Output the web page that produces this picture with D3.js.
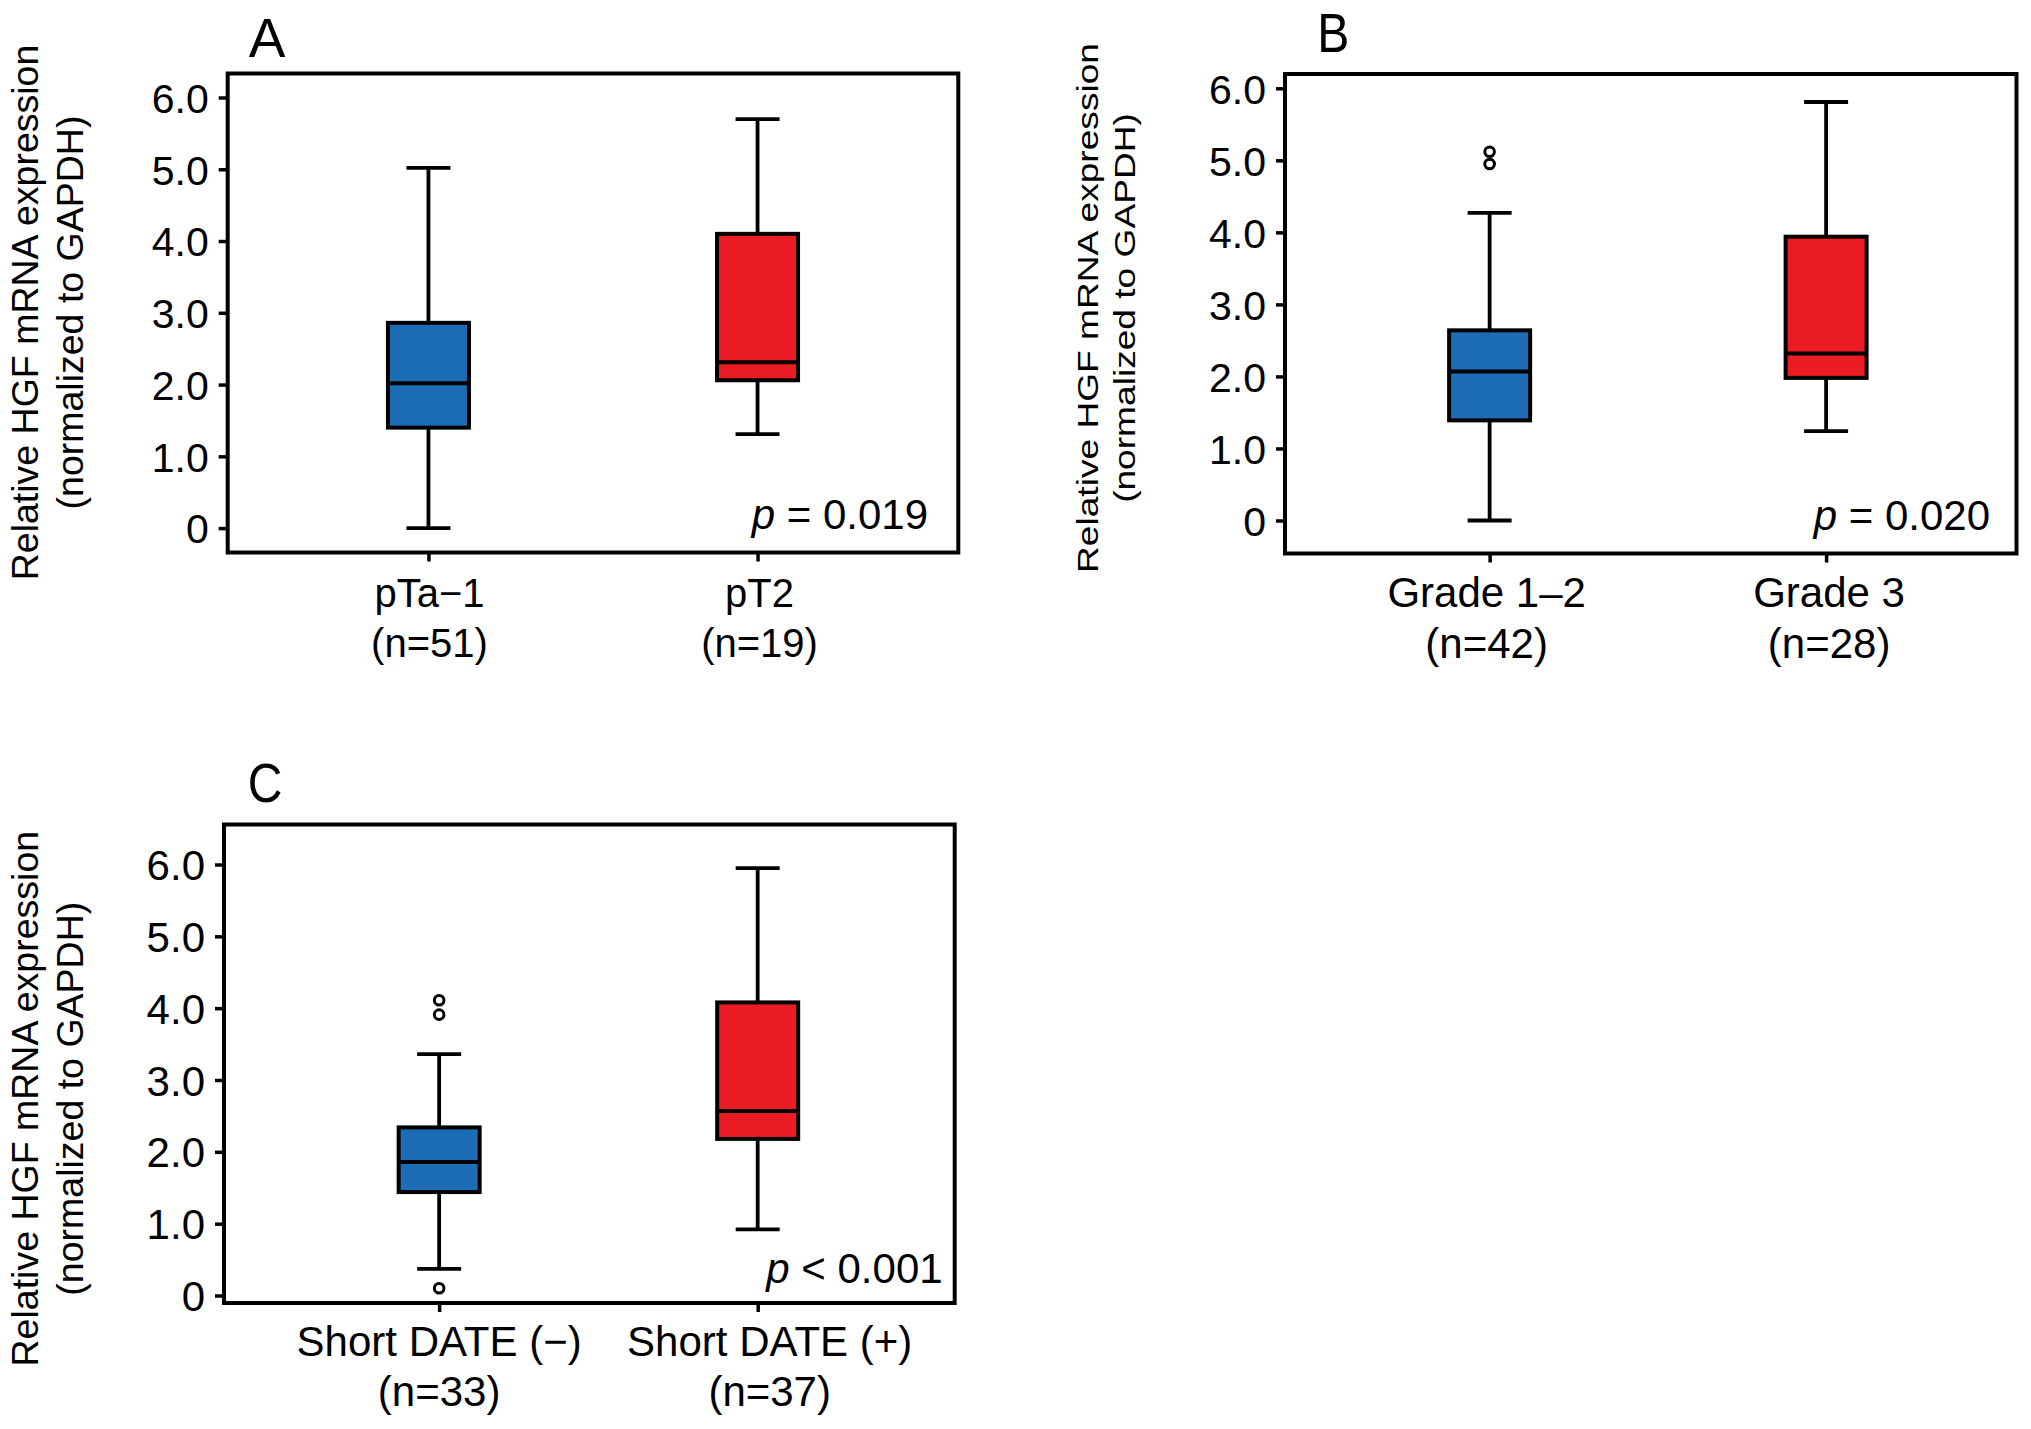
<!DOCTYPE html>
<html>
<head>
<meta charset="utf-8">
<script src="https://cdn.jsdelivr.net/npm/d3@7"></script>
<style>
  body { margin: 0; background: #fff; }
  svg { display: block; }
</style>
</head>
<body>
<script>
"use strict"

/****** DATA ******/
const tick_values = [0, 1, 2, 3, 4, 5, 6]
const tick_labels = ['0', '1.0', '2.0', '3.0', '4.0', '5.0', '6.0']
const y_title = ['Relative HGF mRNA expression', '(normalized to GAPDH)']
const box_colors = ['#1c6db6', '#ec1c24']

// box stats per group: [min, q1, median, q3, max]
const groups_a = ['pTa\u22121', 'pT2']
const counts_a = ['(n=51)', '(n=19)']
const stats_a = [[0, 1.40, 2.02, 2.86, 5.02], [1.31, 2.06, 2.31, 4.10, 5.70]]
const outliers_a = [[], []]
const p_a = ['p', ' = 0.019']

const groups_b = ['Grade 1\u20132', 'Grade 3']
const counts_b = ['(n=42)', '(n=28)']
const stats_b = [[0, 1.39, 2.07, 2.64, 4.27], [1.24, 1.98, 2.32, 3.94, 5.81]]
const outliers_b = [[4.95, 5.12], []]
const p_b = ['p', ' = 0.020']

const groups_c = ['Short DATE (\u2212)', 'Short DATE (+)']
const counts_c = ['(n=33)', '(n=37)']
const stats_c = [[0.37, 1.44, 1.86, 2.34, 3.36], [0.92, 2.18, 2.57, 4.08, 5.95]]
const outliers_c = [[0.10, 3.91, 4.11], []]
const p_c = ['p', ' < 0.001']

/****** LAYOUT ******/
const font = '"Liberation Sans", Arial, Helvetica, sans-serif'
const box_w = 81
const cap_w = 44

const layout = {
  A: {
    frame: [227.7, 73.5, 958.3, 552.5], y0: 528.1, y6: 97.5, pad: 0.61, align: 0.5,
    letter: { x: 248.7, y: 57.3, size: 55, sy: 1 },
    title: { x: [38.3, 83.3], cy: 312.5, size: 37.5, stretch: 1 },
    tick_size: 41,
    cats: { y: [606.7, 656.7], size: 40, dx: [1, 2] },
    p: { x: 928, y: 529, size: 42 }
  },
  B: {
    frame: [1285, 74, 2016.5, 553.5], y0: 520.5, y6: 88.3, pad: 0.587, align: 0.518,
    letter: { x: 1317.3, y: 52.3, size: 48, sy: 1.17 },
    title: { x: [1098.3, 1135], cy: 308, size: 29, stretch: 1.28 },
    tick_size: 41,
    cats: { y: [606.7, 658], size: 42, dx: [-3, 3] },
    p: { x: 1990, y: 530, size: 42 }
  },
  C: {
    frame: [224, 824.5, 954.7, 1303], y0: 1295.5, y6: 864.5, pad: 0.647, align: 0.522,
    letter: { x: 247.7, y: 801.5, size: 48, sy: 1.17 },
    title: { x: [38.3, 83.3], cy: 1098.7, size: 37.5, stretch: 1 },
    tick_size: 42,
    cats: { y: [1355.5, 1405.7], size: 42, dx: [0, 12] },
    p: { x: 942.6, y: 1283.4, size: 42 }
  }
}

const svg = d3.select('body').append('svg')
  .attr('width', 2031)
  .attr('height', 1429)
  .style('font-family', font)

/****** FUNCTIONS ******/
function drawPanel(letter, groups, counts, stats, outliers, p_text) {
  const cfg = layout[letter]
  const [x0, y_top, x1, y_bot] = cfg.frame

  const y = d3.scaleLinear().domain([0, 6]).range([cfg.y0, cfg.y6])
  const x = d3.scalePoint().domain(groups).range([x0, x1])
    .padding(cfg.pad).align(cfg.align)

  const g = svg.append('g').attr('class', 'panel-' + letter)

  // Axes (ticks only, the frame is drawn as a rect)
  const y_axis = g.append('g')
    .attr('transform', `translate(${x0},0)`)
    .call(d3.axisLeft(y)
      .tickValues(tick_values)
      .tickFormat((d, i) => tick_labels[i])
      .tickSize(9)
      .tickPadding(10))
  y_axis.select('.domain').remove()
  y_axis.selectAll('line').attr('stroke', '#000').attr('stroke-width', 3.5)
  y_axis.selectAll('text')
    .attr('font-family', font)
    .attr('font-size', cfg.tick_size)
    .attr('fill', '#000')
    .attr('dy', '0.36em')

  const x_axis = g.append('g')
    .attr('transform', `translate(0,${y_bot})`)
    .call(d3.axisBottom(x).tickSize(9).tickFormat(''))
  x_axis.select('.domain').remove()
  x_axis.selectAll('line').attr('stroke', '#000').attr('stroke-width', 3.5)

  g.append('rect')
    .attr('x', x0).attr('y', y_top)
    .attr('width', x1 - x0).attr('height', y_bot - y_top)
    .attr('fill', 'none')
    .attr('stroke', '#000')
    .attr('stroke-width', 4)

  // Boxes
  const boxes = g.selectAll('.box')
    .data(stats)
    .enter().append('g')
      .attr('class', 'box')
      .attr('transform', (d, i) => `translate(${x(groups[i])},0)`)

  boxes.append('line') // upper whisker
    .attr('y1', d => y(d[4])).attr('y2', d => y(d[3]))
  boxes.append('line') // lower whisker
    .attr('y1', d => y(d[1])).attr('y2', d => y(d[0]))
  boxes.append('line') // upper cap
    .attr('x1', -cap_w / 2).attr('x2', cap_w / 2)
    .attr('y1', d => y(d[4])).attr('y2', d => y(d[4]))
  boxes.append('line') // lower cap
    .attr('x1', -cap_w / 2).attr('x2', cap_w / 2)
    .attr('y1', d => y(d[0])).attr('y2', d => y(d[0]))
  boxes.selectAll('line')
    .attr('stroke', '#000')
    .attr('stroke-width', 3.8)

  boxes.append('rect')
    .attr('x', -box_w / 2)
    .attr('width', box_w)
    .attr('y', d => y(d[3]))
    .attr('height', d => y(d[1]) - y(d[3]))
    .attr('fill', (d, i) => box_colors[i])
    .attr('stroke', '#000')
    .attr('stroke-width', 4)
  boxes.append('line') // median
    .attr('x1', -box_w / 2).attr('x2', box_w / 2)
    .attr('y1', d => y(d[2])).attr('y2', d => y(d[2]))
    .attr('stroke', '#000')
    .attr('stroke-width', 4)

  boxes.each(function (d, i) {
    d3.select(this).selectAll('circle')
      .data(outliers[i])
      .enter().append('circle')
        .attr('cy', v => y(v))
        .attr('r', 4.8)
        .attr('fill', '#fff')
        .attr('stroke', '#000')
        .attr('stroke-width', 3)
  })

  // Category labels (two lines)
  const cats = g.selectAll('.cat')
    .data(groups)
    .enter().append('text')
      .attr('class', 'cat')
      .attr('text-anchor', 'middle')
      .attr('font-size', cfg.cats.size)
  cats.append('tspan')
    .attr('x', (d, i) => x(d) + cfg.cats.dx[i])
    .attr('y', cfg.cats.y[0])
    .text(d => d)
  cats.append('tspan')
    .attr('x', (d, i) => x(d) + cfg.cats.dx[i])
    .attr('y', cfg.cats.y[1])
    .text((d, i) => counts[i])

  // p value
  const p = g.append('text')
    .attr('x', cfg.p.x).attr('y', cfg.p.y)
    .attr('text-anchor', 'end')
    .attr('font-size', cfg.p.size)
  p.append('tspan').attr('font-style', 'italic').text(p_text[0])
  p.append('tspan').text(p_text[1])

  // Y title
  y_title.forEach((line, i) => {
    g.append('text')
      .attr('transform', `translate(${cfg.title.x[i]},${cfg.title.cy}) rotate(-90) scale(${cfg.title.stretch},1)`)
      .attr('text-anchor', 'middle')
      .attr('font-size', cfg.title.size)
      .text(line)
  })

  // Panel letter
  g.append('text')
    .attr('transform', `translate(${cfg.letter.x},${cfg.letter.y}) scale(1,${cfg.letter.sy})`)
    .attr('font-size', cfg.letter.size)
    .text(letter)
}

drawPanel('A', groups_a, counts_a, stats_a, outliers_a, p_a)
drawPanel('B', groups_b, counts_b, stats_b, outliers_b, p_b)
drawPanel('C', groups_c, counts_c, stats_c, outliers_c, p_c)
</script>
</body>
</html>
